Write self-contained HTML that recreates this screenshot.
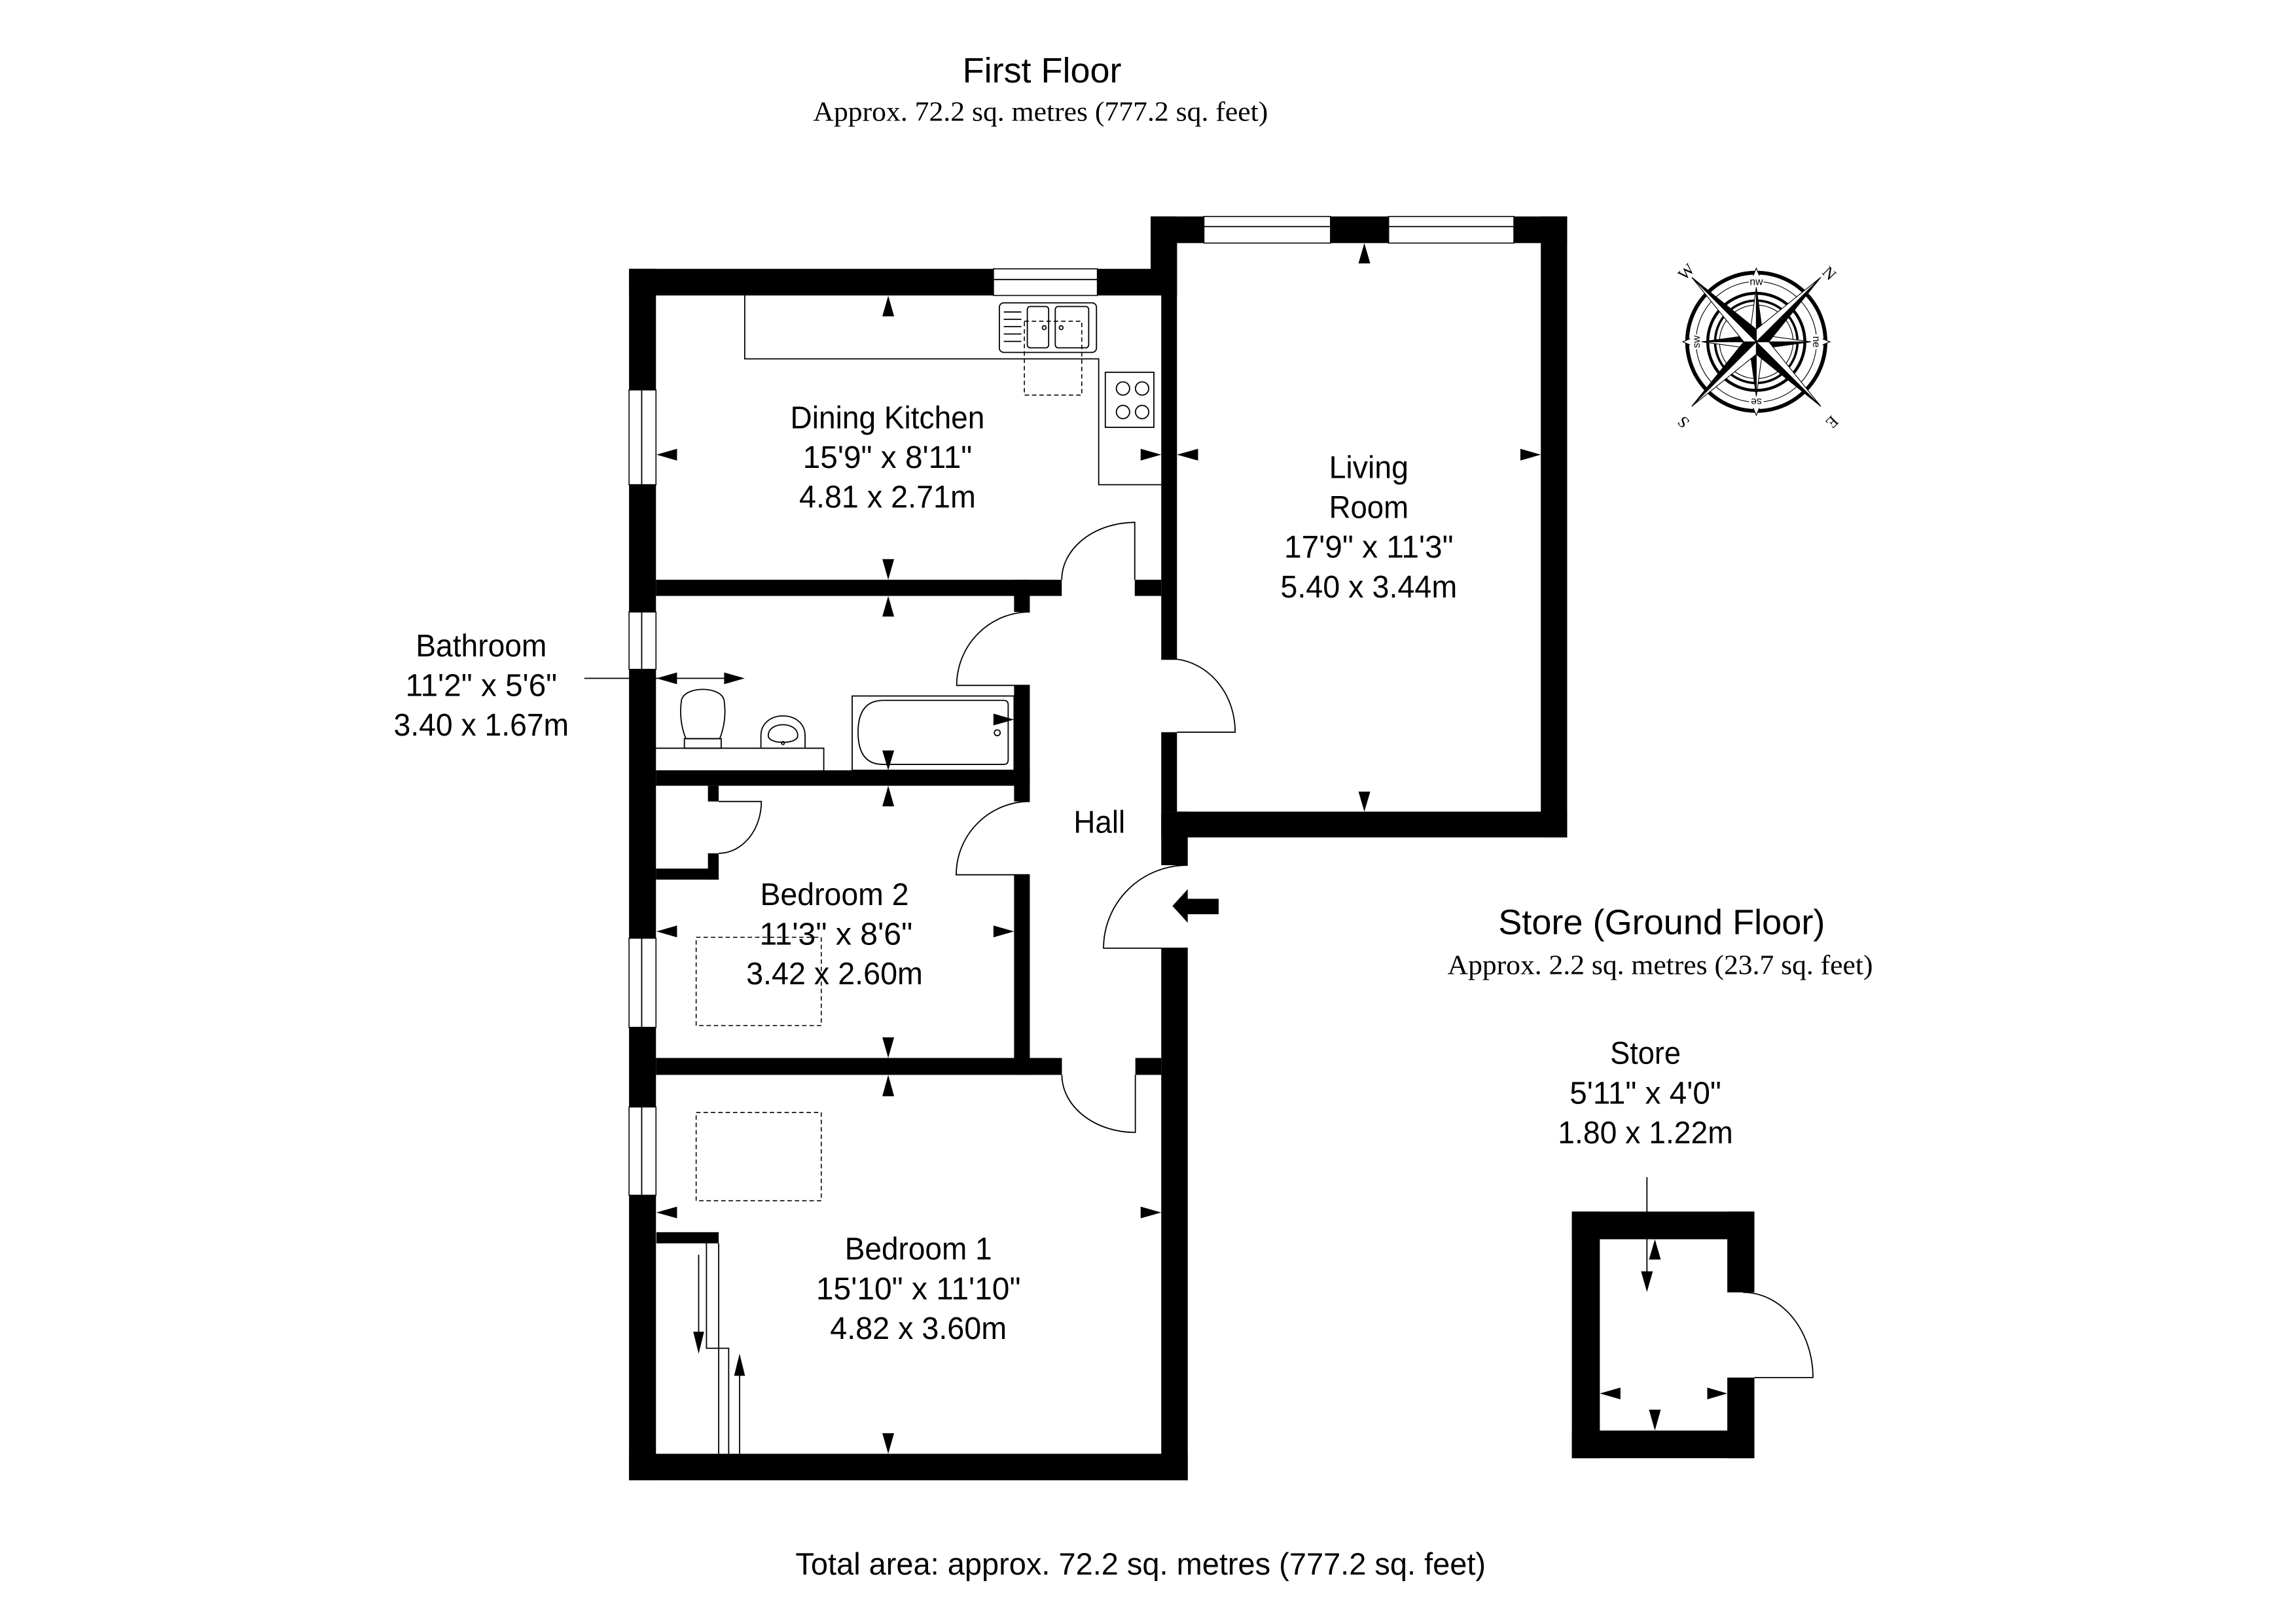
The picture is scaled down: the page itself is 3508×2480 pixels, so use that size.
<!DOCTYPE html>
<html><head><meta charset="utf-8"><style>
html,body{margin:0;padding:0;background:#fff;}
svg{display:block;}
text{font-family:"Liberation Sans",Arial,sans-serif;fill:#000;}
.serif{font-family:"Liberation Serif",serif;}
.w{fill:#000;}
.win{fill:#fff;stroke:#000;stroke-width:0.7;}
.ln{fill:none;stroke:#000;stroke-width:0.8;}
.dash{fill:none;stroke:#000;stroke-width:0.7;stroke-dasharray:3,2;}
</style></head><body>
<svg width="3508" height="2480" viewBox="0 0 1560 1103" preserveAspectRatio="none" xmlns="http://www.w3.org/2000/svg">
<rect width="1560" height="1103" fill="#fff"/>
<g transform="translate(-3,-2)">
<text x="711" y="58" font-size="24" text-anchor="middle" textLength="108" lengthAdjust="spacingAndGlyphs">First Floor</text>
<text x="710" y="84" font-size="19" class="serif" text-anchor="middle" textLength="309" lengthAdjust="spacingAndGlyphs">Approx. 72.2 sq. metres (777.2 sq. feet)</text>
<g transform="translate(-3,0)">
<text x="1135" y="637" font-size="24" text-anchor="middle" textLength="222" lengthAdjust="spacingAndGlyphs">Store (Ground Floor)</text>
<text x="1134" y="664" font-size="19" class="serif" text-anchor="middle" textLength="289" lengthAdjust="spacingAndGlyphs">Approx. 2.2 sq. metres (23.7 sq. feet)</text>
</g>
<text x="778" y="1072" font-size="21" text-anchor="middle" textLength="469" lengthAdjust="spacingAndGlyphs">Total area: approx. 72.2 sq. metres (777.2 sq. feet)</text>
</g>

<!-- Walls -->
<rect class="w" x="427.4" y="182.7" width="18.3" height="823.3"/>
<rect class="w" x="427.4" y="182.7" width="361.6" height="18.1"/>
<rect class="w" x="781.8" y="147.1" width="17.9" height="53.7"/>
<rect class="w" x="781.8" y="147.1" width="283" height="18.1"/>
<rect class="w" x="1046.9" y="147.1" width="17.9" height="422"/>
<rect class="w" x="789" y="551.6" width="275.8" height="17.5"/>
<rect class="w" x="789" y="165" width="10.7" height="283"/>
<rect class="w" x="789" y="497.6" width="10.7" height="54"/>
<rect class="w" x="789" y="551.6" width="18" height="36.4"/>
<rect class="w" x="789" y="644.4" width="18" height="361.6"/>
<rect class="w" x="445.7" y="394" width="275.7" height="11"/>
<rect class="w" x="771" y="394" width="18" height="11"/>
<rect class="w" x="689" y="394" width="10.7" height="21.9"/>
<rect class="w" x="689" y="465.8" width="10.7" height="78.9"/>
<rect class="w" x="689" y="594.5" width="10.7" height="136"/>
<rect class="w" x="445.7" y="523.5" width="254" height="10.5"/>
<rect class="w" x="481" y="534" width="7.3" height="10.7"/>
<rect class="w" x="481" y="579.9" width="7.3" height="17.9"/>
<rect class="w" x="445.7" y="590.3" width="42.6" height="7.5"/>
<rect class="w" x="445.7" y="719" width="275.8" height="11.5"/>
<rect class="w" x="771.4" y="719" width="17.6" height="11.5"/>
<rect class="w" x="427.4" y="988" width="379.6" height="18"/>
<rect class="w" x="446" y="837.4" width="42.3" height="7.6"/>

<!-- Windows -->
<rect class="win" x="675" y="182.7" width="70.6" height="18.1"/><line class="ln" x1="675" y1="190" x2="745.6" y2="190"/>
<rect class="win" x="818" y="147.1" width="86" height="18.1"/><line class="ln" x1="818" y1="154" x2="904" y2="154"/>
<rect class="win" x="943.5" y="147.1" width="85.1" height="18.1"/><line class="ln" x1="943.5" y1="154" x2="1028.6" y2="154"/>
<rect class="win" x="427.4" y="265" width="18.3" height="64.4"/><line class="ln" x1="436" y1="265" x2="436" y2="329.4"/>
<rect class="win" x="427.4" y="415.9" width="18.3" height="39"/><line class="ln" x1="436" y1="415.9" x2="436" y2="454.9"/>
<rect class="win" x="427.4" y="637.6" width="18.3" height="60.6"/><line class="ln" x1="436" y1="637.6" x2="436" y2="698.2"/>
<rect class="win" x="427.4" y="752.3" width="18.3" height="60"/><line class="ln" x1="436" y1="752.3" x2="436" y2="812.3"/>

<!-- Doors -->
<path class="ln" d="M771,394 V355 A50,39 0 0 0 721.4,394"/>
<path class="ln" d="M699.7,465.8 H650 A49.7,50 0 0 1 699.7,415.9"/>
<path class="ln" d="M789,448 H799.7 A45,49.6 0 0 1 839.2,497.6 H799.7"/>
<path class="ln" d="M488.3,544.7 H517.3 A29,35.2 0 0 1 488.3,579.9"/>
<path class="ln" d="M699.6,594.5 H649.7 A50,49.8 0 0 1 699.6,544.7"/>
<path class="ln" d="M721.5,730.5 A49.9,39.1 0 0 0 771.4,769.6 V730.5"/>
<path class="ln" d="M807,644.4 H749.8 A57,56.4 0 0 1 807,588"/>
<polygon class="w" points="796.6,615.7 807,604.3 807,610.8 828,610.8 828,621.3 807,621.3 807,627.1"/>

<!-- Kitchen fittings -->
<path class="ln" d="M506,200.8 V243.9 H746.5 V329.4 H789"/>
<rect class="ln" x="679" y="205.8" width="66" height="33.7" rx="3"/>
<rect class="ln" x="698" y="208.3" width="14.5" height="28.1" rx="2"/>
<rect class="ln" x="717" y="208.3" width="22.7" height="28.1" rx="2"/>
<g class="ln"><line x1="682" y1="212" x2="694" y2="212"/><line x1="682" y1="217" x2="694" y2="217"/><line x1="682" y1="222" x2="694" y2="222"/><line x1="682" y1="227" x2="694" y2="227"/><line x1="682" y1="232" x2="694" y2="232"/></g>
<circle class="ln" cx="709.5" cy="222.7" r="1.3"/><circle class="ln" cx="721" cy="222.7" r="1.3"/>
<rect class="dash" x="696" y="218.3" width="39" height="50.2"/>
<rect class="ln" x="751" y="253" width="33" height="37.4"/>
<circle class="ln" cx="763" cy="264" r="4.5"/><circle class="ln" cx="776" cy="264" r="4.5"/>
<circle class="ln" cx="763" cy="280" r="4.5"/><circle class="ln" cx="776" cy="280" r="4.5"/>

<!-- Bathroom fittings -->
<path class="ln" d="M445.7,508.5 H559.7 V523.5"/>
<path class="ln" d="M466,502 C462,492 462,483 463,476 C465,466 490,466 492,476 C493,483 493,492 489,502 Z"/>
<rect class="ln" x="465" y="502" width="25" height="6.5"/>
<path class="ln" d="M517,508 V500 C517,482 547,482 547,500 V508"/>
<path class="ln" d="M522,500 C522,490 542,490 542,500 C542,506 522,506 522,500 Z"/>
<circle class="ln" cx="532" cy="505" r="1"/>
<rect class="ln" x="579" y="473" width="110" height="50.5"/>
<path class="ln" d="M600,476 H682 Q685,476 685,479 V516.5 Q685,519.5 682,519.5 H600 Q583,519.5 583,497.75 Q583,476 600,476 Z"/>
<circle class="ln" cx="677.6" cy="498" r="2"/>

<rect class="dash" x="473" y="637" width="85" height="60"/>
<rect class="dash" x="473" y="756" width="85" height="60"/>

<!-- Wardrobe -->
<path class="ln" d="M480,845 V916.3 H495.1 V988"/>
<path class="ln" d="M488.3,845 V916.3"/>
<line class="ln" x1="488.3" y1="916.3" x2="488.3" y2="988"/>
<line class="ln" x1="474.7" y1="852.7" x2="474.7" y2="916"/>
<polygon class="w" points="474.7,920 471,905 478.4,905"/>
<line class="ln" x1="502.5" y1="988" x2="502.5" y2="930"/>
<polygon class="w" points="502.5,920 498.8,935 506.2,935"/>

<!-- Dimension arrows -->
<g class="w">
<polygon points="603.5,201 599.5,215 607.5,215"/>
<polygon points="603.5,394 599.5,380 607.5,380"/>
<polygon points="446,309 460,305 460,313"/>
<polygon points="789,309 775,305 775,313"/>
<polygon points="927,165.2 923,179 931,179"/>
<polygon points="927,551.6 923,538 931,538"/>
<polygon points="799.7,309 814,305 814,313"/>
<polygon points="1046.9,309 1033,305 1033,313"/>
<polygon points="603.5,405 599.5,419 607.5,419"/>
<polygon points="603.5,523.5 599.5,510 607.5,510"/>
<polygon points="446,461 460,457 460,465"/>
<polygon points="689,489 675,485 675,493"/>
<polygon points="506,461 492,457 492,465"/>
<polygon points="603.5,534 599.5,548 607.5,548"/>
<polygon points="603.5,719 599.5,705 607.5,705"/>
<polygon points="446,633 460,629 460,637"/>
<polygon points="689,633 675,629 675,637"/>
<polygon points="603.5,730.5 599.5,745 607.5,745"/>
<polygon points="603.5,988 599.5,974 607.5,974"/>
<polygon points="446,824 460,820 460,828"/>
<polygon points="789,824 775,820 775,828"/>
</g>
<line class="ln" x1="397" y1="461" x2="495" y2="461"/>

<!-- Room labels -->
<g font-size="21.5" text-anchor="middle" transform="translate(-3,-2)">
<text x="606" y="293" textLength="132" lengthAdjust="spacingAndGlyphs">Dining Kitchen</text>
<text x="606" y="320" textLength="115" lengthAdjust="spacingAndGlyphs">15'9" x 8'11"</text>
<text x="606" y="347" textLength="120" lengthAdjust="spacingAndGlyphs">4.81 x 2.71m</text>
<text x="933" y="327" textLength="54" lengthAdjust="spacingAndGlyphs">Living</text>
<text x="933" y="354" textLength="54" lengthAdjust="spacingAndGlyphs">Room</text>
<text x="933" y="381" textLength="115" lengthAdjust="spacingAndGlyphs">17'9" x 11'3"</text>
<text x="933" y="408" textLength="120" lengthAdjust="spacingAndGlyphs">5.40 x 3.44m</text>
<text x="330" y="448" textLength="89" lengthAdjust="spacingAndGlyphs">Bathroom</text>
<text x="330" y="475" textLength="103" lengthAdjust="spacingAndGlyphs">11'2" x 5'6"</text>
<text x="330" y="502" textLength="119" lengthAdjust="spacingAndGlyphs">3.40 x 1.67m</text>
<text x="750" y="568" textLength="35" lengthAdjust="spacingAndGlyphs">Hall</text>
<text x="570" y="617" textLength="101" lengthAdjust="spacingAndGlyphs">Bedroom 2</text>
<text x="571" y="644" textLength="104" lengthAdjust="spacingAndGlyphs">11'3" x 8'6"</text>
<text x="570" y="671" textLength="120" lengthAdjust="spacingAndGlyphs">3.42 x 2.60m</text>
<text x="627" y="858" textLength="100" lengthAdjust="spacingAndGlyphs">Bedroom 1</text>
<text x="627" y="885" textLength="139" lengthAdjust="spacingAndGlyphs">15'10" x 11'10"</text>
<text x="627" y="912" textLength="120" lengthAdjust="spacingAndGlyphs">4.82 x 3.60m</text>
<text x="1121" y="725" textLength="48" lengthAdjust="spacingAndGlyphs">Store</text>
<text x="1121" y="752" textLength="103" lengthAdjust="spacingAndGlyphs">5'11" x 4'0"</text>
<text x="1121" y="779" textLength="119" lengthAdjust="spacingAndGlyphs">1.80 x 1.22m</text>
</g>

<!-- Store -->
<rect class="w" x="1068" y="823.4" width="124" height="18.8"/>
<rect class="w" x="1068" y="972.2" width="124" height="18.8"/>
<rect class="w" x="1068" y="823.4" width="19" height="167.6"/>
<rect class="w" x="1173.6" y="823.4" width="18.4" height="54.9"/>
<rect class="w" x="1173.6" y="936.2" width="18.4" height="54.8"/>
<path class="ln" d="M1184.3,878.3 A47.5,57.9 0 0 1 1231.8,936.2 H1192"/>
<line class="ln" x1="1119" y1="800" x2="1119" y2="866"/>
<g class="w">
<polygon points="1119,878 1115,864 1123,864"/>
<polygon points="1124.4,842.2 1120.4,856 1128.4,856"/>
<polygon points="1124.4,972.2 1120.4,958 1128.4,958"/>
<polygon points="1087,947 1101,943 1101,951"/>
<polygon points="1173.6,947 1160,943 1160,951"/>
</g>

<!-- Compass -->
<g transform="translate(1193.3,232.3)">
<circle r="47" fill="none" stroke="#000" stroke-width="2.6"/>
<circle r="41" fill="none" stroke="#000" stroke-width="0.5"/>
<circle r="33" fill="none" stroke="#000" stroke-width="2"/>
<circle r="28" fill="none" stroke="#000" stroke-width="1.6"/>
<circle r="25" fill="none" stroke="#000" stroke-width="0.5"/>
<g fill="#fff" stroke="#000" stroke-width="0.5">
<polygon points="0,-50 -2.5,-44 2.5,-44"/><polygon points="0,50 -2.5,44 2.5,44"/>
<polygon points="-50,0 -44,-2.5 -44,2.5"/><polygon points="50,0 44,-2.5 44,2.5"/>
</g>
<g stroke="#000" stroke-width="0.5">
<g transform="rotate(0)"><polygon points="0,-37 4.5,-4.5 0,0" fill="#000"/><polygon points="0,-37 -4.5,-4.5 0,0" fill="#fff"/></g>
<g transform="rotate(90)"><polygon points="0,-37 4.5,-4.5 0,0" fill="#000"/><polygon points="0,-37 -4.5,-4.5 0,0" fill="#fff"/></g>
<g transform="rotate(180)"><polygon points="0,-37 4.5,-4.5 0,0" fill="#000"/><polygon points="0,-37 -4.5,-4.5 0,0" fill="#fff"/></g>
<g transform="rotate(270)"><polygon points="0,-37 4.5,-4.5 0,0" fill="#000"/><polygon points="0,-37 -4.5,-4.5 0,0" fill="#fff"/></g>
<g transform="rotate(45)"><polygon points="0,-62 6,-6 0,0" fill="#000"/><polygon points="0,-62 -6,-6 0,0" fill="#fff"/></g>
<g transform="rotate(135)"><polygon points="0,-62 6,-6 0,0" fill="#000"/><polygon points="0,-62 -6,-6 0,0" fill="#fff"/></g>
<g transform="rotate(225)"><polygon points="0,-62 6,-6 0,0" fill="#000"/><polygon points="0,-62 -6,-6 0,0" fill="#fff"/></g>
<g transform="rotate(315)"><polygon points="0,-62 6,-6 0,0" fill="#000"/><polygon points="0,-62 -6,-6 0,0" fill="#fff"/></g>
</g>
<rect x="-5" y="-45" width="10" height="7" fill="#fff"/>
<text x="0" y="-38.5" font-size="7" text-anchor="middle">nw</text>
<g transform="rotate(90)"><rect x="-5" y="-45" width="10" height="7" fill="#fff"/><text x="0" y="-38.5" font-size="7" text-anchor="middle">ne</text></g>
<g transform="rotate(180)"><rect x="-5" y="-45" width="10" height="7" fill="#fff"/><text x="0" y="-38.5" font-size="7" text-anchor="middle">se</text></g>
<g transform="rotate(270)"><rect x="-5" y="-45" width="10" height="7" fill="#fff"/><text x="0" y="-38.5" font-size="7" text-anchor="middle">sw</text></g>
<g font-size="11" text-anchor="middle">
<text transform="translate(47,-44) rotate(45)" class="serif">N</text>
<text transform="translate(49,52) rotate(135)" class="serif">E</text>
<text transform="translate(-47,52) rotate(225)" class="serif">S</text>
<text transform="translate(-45,-45) rotate(-45)" class="serif">W</text>
</g>
</g>
</svg>
</body></html>
